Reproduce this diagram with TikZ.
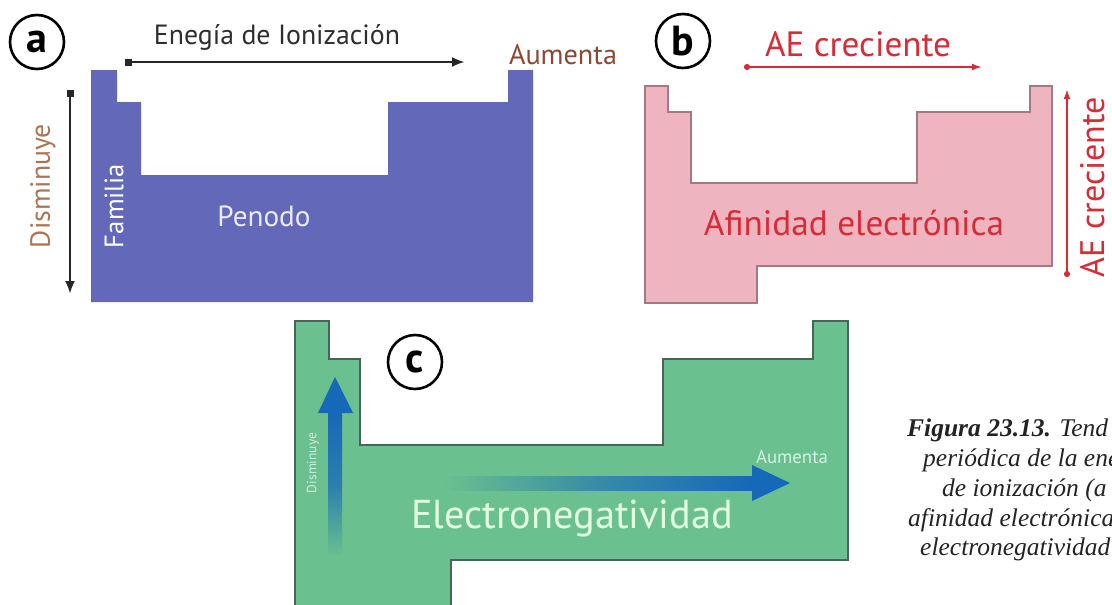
\documentclass[tikz,border=0pt]{standalone}
\usepackage{fontspec}
\usepackage{graphicx}
\usetikzlibrary{arrows.meta}
\newfontfamily\labfont{PT Sans}
\newfontfamily\capfont{Liberation Serif}
\definecolor{bluefill}{RGB}{99,105,184}
\definecolor{pinkfill}{RGB}{238,180,191}
\definecolor{pinkedge}{RGB}{165,120,130}
\definecolor{greenfill}{RGB}{106,192,142}
\definecolor{greenedge}{RGB}{72,102,88}
\definecolor{redtxt}{RGB}{214,44,56}
\definecolor{browntxt}{RGB}{140,72,52}
\definecolor{orangetxt}{RGB}{172,116,82}
\definecolor{arrblue}{RGB}{22,104,184}
\definecolor{captxt}{RGB}{35,35,35}
\newcommand{\fitw}[2]{\resizebox{#1}{!}{#2}}
\tikzset{
  lbl/.style={inner sep=0pt, font=\labfont},
  badge/.style={circle, draw=black, line width=2.6pt, minimum size=54pt, inner sep=0pt,
    font=\labfont\bfseries\fontsize{42}{42}\selectfont},
  arrA/.style={line width=2.6pt, black!85, {Square[length=7pt,width=7pt]}-{Latex[length=13pt,width=10pt]}},
  arrB/.style={line width=2pt, redtxt, {Circle[length=6pt]}-{Latex[length=10pt,width=7pt]}},
  capline/.style={anchor=mid west, inner sep=0pt, text=captxt, font=\capfont\itshape\fontsize{25.5}{25.5}\selectfont},
}
\begin{document}
\begin{tikzpicture}[x=1pt,y=-1pt]
\useasboundingbox (0,0) rectangle (1112,605);
% ---------- panel a ----------
\fill[bluefill] (91,70) -- (117,70) -- (117,102) -- (141,102) -- (141,175) -- (388,175)
  -- (388,102) -- (508,102) -- (508,70) -- (533,70) -- (533,302) -- (91,302) -- cycle;
\node[badge] (ba) at (37,42) {a};
\node[lbl, text=black!82] (eion) at (277,37) {\fitw{246pt}{Enegía de Ionización}};
\node[lbl, text=browntxt] (aum) at (563,55) {\fitw{108pt}{Aumenta}};
\node[lbl, text=orangetxt, rotate=90] (dism) at (43,186) {\fitw{124pt}{Disminuye}};
\node[lbl, text=white, rotate=90] (fam) at (114,206) {\fitw{84pt}{Familia}};
\node[lbl, text=white!92!blue] (pen) at (264,216) {\fitw{93pt}{Penodo}};
\coordinate (ah1) at (125,62);
\coordinate (ah2) at (465,62);
\coordinate (av1) at (70,90);
\coordinate (av2) at (70,294);
\draw[arrA] (ah1) -- (ah2);
\draw[arrA] (av1) -- (av2);
% ---------- panel b ----------
\filldraw[fill=pinkfill, draw=pinkedge, line width=1.4pt] (645,86) -- (668,86) -- (668,112) -- (691,112)
  -- (691,183) -- (917,183) -- (917,112) -- (1030,112) -- (1030,86) -- (1052,86) -- (1052,266)
  -- (757,266) -- (757,303) -- (645,303) -- cycle;
\node[badge] (bb) at (683,41) {b};
\node[lbl, text=redtxt] (aetop) at (858,44) {\fitw{186pt}{AE creciente}};
\node[lbl, text=redtxt, rotate=90] (aeside) at (1093,187) {\fitw{180pt}{AE creciente}};
\node[lbl, text=redtxt] (afin) at (854,223) {\fitw{300pt}{Afinidad electrónica}};
\coordinate (bh1) at (744,67);
\coordinate (bh2) at (982,67);
\coordinate (bv1) at (1067,277);
\coordinate (bv2) at (1067,89);
\draw[arrB] (bh1) -- (bh2);
\draw[arrB] (bv1) -- (bv2);
% ---------- panel c ----------
\filldraw[fill=greenfill, draw=greenedge, line width=1.4pt] (295,321) -- (329,321) -- (329,359) -- (360,359)
  -- (360,445) -- (663,445) -- (663,359) -- (813,359) -- (813,321) -- (848,321) -- (848,560)
  -- (451,560) -- (451,606) -- (295,606) -- cycle;
\node[badge] (bc) at (415,362) {c};
% vertical gradient arrow
\coordinate (cvb) at (328,556);
\coordinate (cvt) at (342,412);
\shade[top color=arrblue, bottom color=greenfill, middle color=arrblue!75!greenfill] (cvb) rectangle (cvt);
\coordinate (cvtip) at (335,377);
\fill[arrblue] (318,413) -- (cvtip) -- (353,413) -- cycle;
% horizontal gradient arrow
\coordinate (chl) at (444,476);
\coordinate (chr) at (753,490);
\shade[left color=greenfill, right color=arrblue, middle color=arrblue!60!greenfill] (chl) rectangle (chr);
\coordinate (chtip) at (790,483);
\fill[arrblue] (752,465) -- (chtip) -- (752,501) -- cycle;
\node[lbl, text=white!90!green] (eneg) at (572,519) {\fitw{322pt}{Electronegatividad}};
\node[lbl, text=white!70!greenfill, rotate=90] (cdis) at (313,463) {\fitw{60pt}{Disminuye}};
\node[lbl, text=white!75!greenfill] (caum) at (792,457) {\fitw{72pt}{Aumenta}};
% ---------- caption ----------
\node[capline] (cap1) at (907,434) {\textbf{Figura 23.13.} Tend};
\node[capline] (cap2) at (923,464) {periódica de la ene};
\node[capline] (cap3) at (942,494) {de ionización (a};
\node[capline] (cap4) at (908,524) {afinidad electrónica};
\node[capline] (cap5) at (920,553) {electronegatividad};
\end{tikzpicture}
\end{document}
